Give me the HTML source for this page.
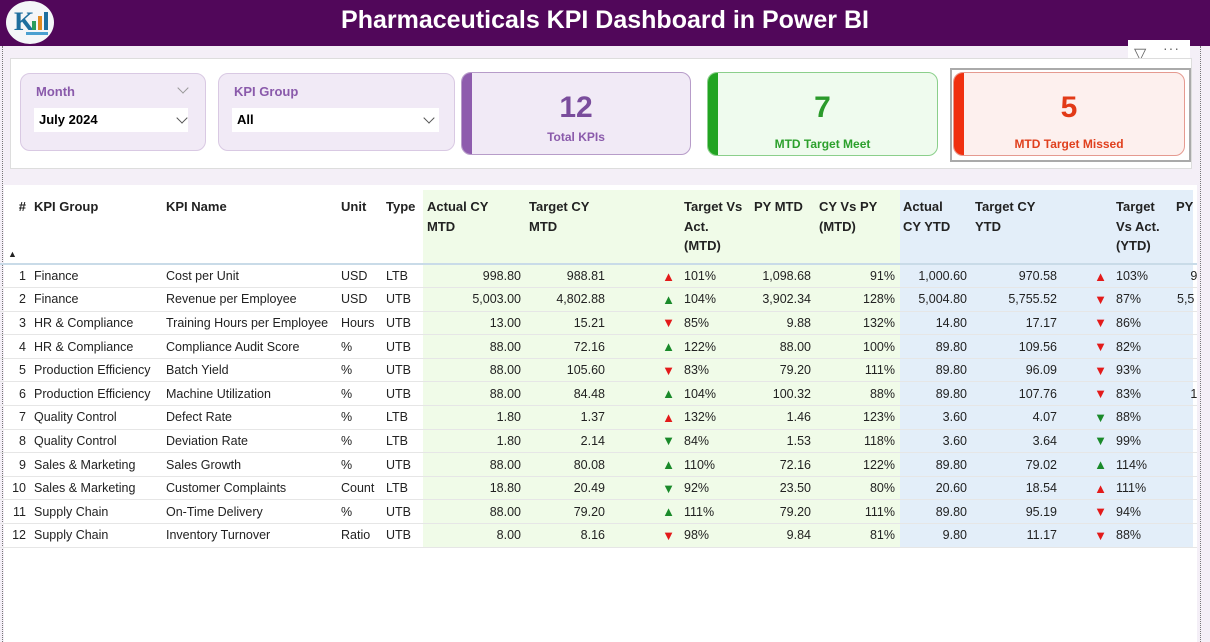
<!DOCTYPE html>
<html><head><meta charset="utf-8"><style>
*{margin:0;padding:0;box-sizing:border-box}
body{width:1210px;height:642px;overflow:hidden;background:#f4eff7;font-family:"Liberation Sans",sans-serif;position:relative}
.hdr{position:absolute;left:0;top:0;width:1210px;height:46px;background:#51075a;color:#fff;font-weight:bold;font-size:25px;text-align:center;line-height:40px}
.logo{position:absolute;left:6px;top:1px;width:48px;height:43px;border-radius:50%;background:#f4f6f8;overflow:hidden}
.dl{position:absolute;left:2px;top:46px;height:596px;border-left:1px dotted #777}
.dr{position:absolute;left:1200px;top:46px;height:596px;border-left:1px dotted #777}
.panel{position:absolute;left:10px;top:58px;width:1182px;height:111px;background:#fff;border:1px solid #ddd}
.slc{position:absolute;background:#f1eaf6;border:1px solid #d9c9e3;border-radius:10px}
.slc .t{position:absolute;left:15px;top:10px;color:#8a5aab;font-weight:bold;font-size:13px}
.slc .b{position:absolute;left:13px;top:34px;height:24px;background:#fff;font-weight:bold;font-size:13px;line-height:24px;padding-left:5px}
.chev{position:absolute;width:8px;height:8px;border-right:1.3px solid #555;border-bottom:1.3px solid #555;transform:rotate(45deg)}
.card{position:absolute;border-radius:10px;text-align:center;overflow:hidden}
.card .n{font-size:30px;font-weight:bold;position:absolute;left:0;right:0;top:18px}
.card .l{font-size:12px;font-weight:bold;position:absolute;left:0;right:0;top:64px}
.card .bar{position:absolute;left:0;top:0;bottom:0;width:10px}
.tbl{position:absolute;left:4px;top:185px;width:1193px;height:457px;background:#fff}
.g{position:absolute;left:423px;top:190px;width:477px;height:357px;background:#f0fbe8}
.bl{position:absolute;left:900px;top:190px;width:293px;height:357px;background:#e3eef9}
table{position:absolute;left:0;top:190px;border-collapse:collapse;table-layout:fixed;font-size:12.5px;color:#222}
th{font-weight:bold;text-align:left;vertical-align:top;height:74px;padding:7px 4px 0 4px;line-height:19.5px;font-size:13px;border-bottom:2px solid #c9dbe8}
td{height:23.6px;padding:0 4px;white-space:nowrap;overflow:hidden;border-bottom:1px solid #e6e6e6}
.r{text-align:right}
.ar{text-align:right;padding-right:5px;font-size:13px}
.up{color:#e31a1a}.dn{color:#e31a1a}.gu{color:#1a8a2a}
</style></head><body>
<div class="hdr">Pharmaceuticals KPI Dashboard in Power BI</div>
<div class="logo"><div style="position:absolute;left:8px;top:6px;font:bold 26px 'Liberation Serif',serif;color:#1c6e9e">K</div><div style="position:absolute;left:26px;top:20px;width:4px;height:9px;background:#2a9d5c"></div><div style="position:absolute;left:32px;top:15px;width:4px;height:14px;background:#e08a1e"></div><div style="position:absolute;left:38px;top:11px;width:4px;height:18px;background:#1c6e9e"></div><div style="position:absolute;left:20px;top:31px;width:22px;height:3px;background:#4aa0d0"></div></div>
<div class="dl"></div><div class="dr"></div>
<div style="position:absolute;left:1128px;top:40px;width:62px;height:22px;background:#fff"></div>
<div style="position:absolute;left:1134px;top:44px;font-size:16px;color:#666">&#9661;</div>
<div style="position:absolute;left:1163px;top:40px;font-size:14px;color:#666;letter-spacing:1px">···</div>
<div class="panel"></div>
<div class="slc" style="left:20px;top:73px;width:186px;height:78px"><div class="t">Month</div><div class="chev" style="left:158px;top:10px;border-color:#999"></div><div class="b" style="width:154px">July 2024</div><div class="chev" style="left:157px;top:40px"></div></div>
<div class="slc" style="left:218px;top:73px;width:237px;height:78px"><div class="t">KPI Group</div><div class="b" style="width:207px">All</div><div class="chev" style="left:206px;top:40px"></div></div>
<div class="card" style="left:461px;top:72px;width:230px;height:83px;background:#f1eaf6;border:1px solid #b79cc9"><div class="bar" style="background:#8e5cad"></div><div class="n" style="color:#7a4d9c">12</div><div class="l" style="color:#8a5aab;top:57px">Total KPIs</div></div>
<div class="card" style="left:707px;top:72px;width:231px;height:84px;background:#effbee;border:1px solid #8bcf8b"><div class="bar" style="background:#22a422"></div><div class="n" style="color:#2a9a2a">7</div><div class="l" style="color:#2ca02c">MTD Target Meet</div></div>
<div style="position:absolute;left:950px;top:68px;width:241px;height:94px;border:2px solid #aaa"></div>
<div class="card" style="left:953px;top:72px;width:232px;height:84px;background:#fdf0ee;border:1px solid #e59a90"><div class="bar" style="background:#f03010"></div><div class="n" style="color:#e23a17">5</div><div class="l" style="color:#e0401e">MTD Target Missed</div></div>
<div class="tbl"></div><div class="g"></div><div class="bl"></div>
<table>
<colgroup><col style="width:30px"><col style="width:132px"><col style="width:175px"><col style="width:45px"><col style="width:41px"><col style="width:102px"><col style="width:84px"><col style="width:71px"><col style="width:70px"><col style="width:65px"><col style="width:84px"><col style="width:72px"><col style="width:90px"><col style="width:51px"><col style="width:60px"><col style="width:21px"></colgroup>
<tr><th class="r" style="position:relative">#<span style="position:absolute;left:8px;top:55px;font-size:9px">&#9650;</span></th><th>KPI Group</th><th>KPI Name</th><th>Unit</th><th>Type</th><th>Actual CY<br>MTD</th><th>Target CY<br>MTD</th><th></th><th>Target Vs<br>Act.<br>(MTD)</th><th>PY MTD</th><th>CY Vs PY<br>(MTD)</th><th>Actual<br>CY YTD</th><th>Target CY<br>YTD</th><th></th><th>Target<br>Vs Act.<br>(YTD)</th><th>PY</th></tr>
<tr><td class="r">1</td><td>Finance</td><td>Cost per Unit</td><td>USD</td><td>LTB</td><td class="r">998.80</td><td class="r">988.81</td><td class="ar up">&#9650;</td><td>101%</td><td class="r">1,098.68</td><td class="r">91%</td><td class="r">1,000.60</td><td class="r">970.58</td><td class="ar up">&#9650;</td><td>103%</td><td class="r" style="padding:0">9</td></tr>
<tr><td class="r">2</td><td>Finance</td><td>Revenue per Employee</td><td>USD</td><td>UTB</td><td class="r">5,003.00</td><td class="r">4,802.88</td><td class="ar gu">&#9650;</td><td>104%</td><td class="r">3,902.34</td><td class="r">128%</td><td class="r">5,004.80</td><td class="r">5,755.52</td><td class="ar dn">&#9660;</td><td>87%</td><td style="padding:0 0 0 5px">5,5</td></tr>
<tr><td class="r">3</td><td>HR &amp; Compliance</td><td>Training Hours per Employee</td><td>Hours</td><td>UTB</td><td class="r">13.00</td><td class="r">15.21</td><td class="ar dn">&#9660;</td><td>85%</td><td class="r">9.88</td><td class="r">132%</td><td class="r">14.80</td><td class="r">17.17</td><td class="ar dn">&#9660;</td><td>86%</td><td></td></tr>
<tr><td class="r">4</td><td>HR &amp; Compliance</td><td>Compliance Audit Score</td><td>%</td><td>UTB</td><td class="r">88.00</td><td class="r">72.16</td><td class="ar gu">&#9650;</td><td>122%</td><td class="r">88.00</td><td class="r">100%</td><td class="r">89.80</td><td class="r">109.56</td><td class="ar dn">&#9660;</td><td>82%</td><td></td></tr>
<tr><td class="r">5</td><td>Production Efficiency</td><td>Batch Yield</td><td>%</td><td>UTB</td><td class="r">88.00</td><td class="r">105.60</td><td class="ar dn">&#9660;</td><td>83%</td><td class="r">79.20</td><td class="r">111%</td><td class="r">89.80</td><td class="r">96.09</td><td class="ar dn">&#9660;</td><td>93%</td><td></td></tr>
<tr><td class="r">6</td><td>Production Efficiency</td><td>Machine Utilization</td><td>%</td><td>UTB</td><td class="r">88.00</td><td class="r">84.48</td><td class="ar gu">&#9650;</td><td>104%</td><td class="r">100.32</td><td class="r">88%</td><td class="r">89.80</td><td class="r">107.76</td><td class="ar dn">&#9660;</td><td>83%</td><td class="r" style="padding:0">1</td></tr>
<tr><td class="r">7</td><td>Quality Control</td><td>Defect Rate</td><td>%</td><td>LTB</td><td class="r">1.80</td><td class="r">1.37</td><td class="ar up">&#9650;</td><td>132%</td><td class="r">1.46</td><td class="r">123%</td><td class="r">3.60</td><td class="r">4.07</td><td class="ar gu">&#9660;</td><td>88%</td><td></td></tr>
<tr><td class="r">8</td><td>Quality Control</td><td>Deviation Rate</td><td>%</td><td>LTB</td><td class="r">1.80</td><td class="r">2.14</td><td class="ar gu">&#9660;</td><td>84%</td><td class="r">1.53</td><td class="r">118%</td><td class="r">3.60</td><td class="r">3.64</td><td class="ar gu">&#9660;</td><td>99%</td><td></td></tr>
<tr><td class="r">9</td><td>Sales &amp; Marketing</td><td>Sales Growth</td><td>%</td><td>UTB</td><td class="r">88.00</td><td class="r">80.08</td><td class="ar gu">&#9650;</td><td>110%</td><td class="r">72.16</td><td class="r">122%</td><td class="r">89.80</td><td class="r">79.02</td><td class="ar gu">&#9650;</td><td>114%</td><td></td></tr>
<tr><td class="r">10</td><td>Sales &amp; Marketing</td><td>Customer Complaints</td><td>Count</td><td>LTB</td><td class="r">18.80</td><td class="r">20.49</td><td class="ar gu">&#9660;</td><td>92%</td><td class="r">23.50</td><td class="r">80%</td><td class="r">20.60</td><td class="r">18.54</td><td class="ar up">&#9650;</td><td>111%</td><td></td></tr>
<tr><td class="r">11</td><td>Supply Chain</td><td>On-Time Delivery</td><td>%</td><td>UTB</td><td class="r">88.00</td><td class="r">79.20</td><td class="ar gu">&#9650;</td><td>111%</td><td class="r">79.20</td><td class="r">111%</td><td class="r">89.80</td><td class="r">95.19</td><td class="ar dn">&#9660;</td><td>94%</td><td></td></tr>
<tr><td class="r">12</td><td>Supply Chain</td><td>Inventory Turnover</td><td>Ratio</td><td>UTB</td><td class="r">8.00</td><td class="r">8.16</td><td class="ar dn">&#9660;</td><td>98%</td><td class="r">9.84</td><td class="r">81%</td><td class="r">9.80</td><td class="r">11.17</td><td class="ar dn">&#9660;</td><td>88%</td><td></td></tr>
</table>
</body></html>
